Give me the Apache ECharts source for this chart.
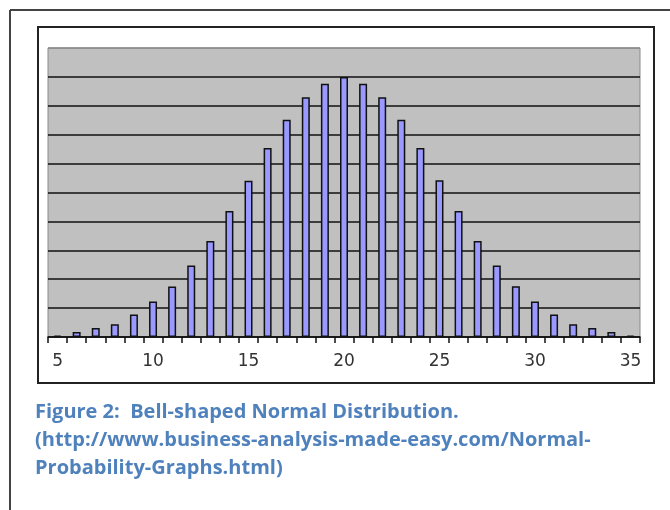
<!DOCTYPE html>
<html lang="en" style="height: 100%">
<head>
<meta charset="utf-8">
<title>Bell-shaped Normal Distribution</title>
</head>
<body style="height: 100%; margin: 0; background: #fff">
<div id="container" style="width: 670px; height: 510px"></div>

<script type="text/javascript" src="https://cdn.jsdelivr.net/npm/echarts/dist/echarts.min.js"></script>

<script type="text/javascript">

// category labels along the x axis (5 .. 35)
const categories = ['5', '6', '7', '8', '9', '10', '11', '12', '13', '14', '15', '16', '17', '18', '19', '20',
    '21', '22', '23', '24', '25', '26', '27', '28', '29', '30', '31', '32', '33', '34', '35'];

// bar heights (grid units, 0..10)
const frequency = [0.05, 0.17, 0.31, 0.44, 0.78, 1.23, 1.75, 2.47, 3.32, 4.36, 5.41, 6.54, 7.52, 8.30, 8.76, 9.0,
    8.76, 8.30, 7.52, 6.54, 5.42, 4.36, 3.32, 2.47, 1.76, 1.23, 0.78, 0.44, 0.31, 0.17, 0.05];

const captionLines = [
    'Figure 2:  Bell-shaped Normal Distribution.',
    '(http://www.business-analysis-made-easy.com/Normal-',
    'Probability-Graphs.html)'
];

var dom = document.getElementById('container');
var myChart = echarts.init(dom, null, {width: 670, height: 510});

// split lines: black inside, grey on the top edge
var splitColors = [];
for (var i = 0; i < 10; i++) splitColors.push('#111');
splitColors.push('#8a8a8a');

var option = {
    animation: false,
    backgroundColor: '#fff',
    title: {
        text: captionLines.join('\n'),
        left: 30,
        top: 393,
        textStyle: {
            fontFamily: 'Open Sans',
            fontWeight: 'bold',
            fontSize: 20,
            lineHeight: 28,
            color: '#4f81bd'
        }
    },
    graphic: [
        // page border (top and left)
        {type: 'line', shape: {x1: 10, y1: 10, x2: 670, y2: 10}, style: {stroke: '#444', lineWidth: 2}, z: -1},
        {type: 'line', shape: {x1: 10, y1: 10, x2: 10, y2: 510}, style: {stroke: '#444', lineWidth: 2}, z: -1},
        // chart frame
        {type: 'rect', shape: {x: 38, y: 27, width: 616, height: 356}, style: {fill: 'none', stroke: '#222', lineWidth: 2}, z: -1}
    ],
    grid: {
        left: 48,
        top: 48,
        width: 592,
        height: 289,
        show: true,
        backgroundColor: '#c0c0c0',
        borderColor: '#8a8a8a',
        borderWidth: 1
    },
    xAxis: {
        type: 'category',
        data: categories,
        boundaryGap: true,
        axisLine: {lineStyle: {color: '#111', width: 1.5}},
        axisTick: {show: true, interval: 0, length: 6, lineStyle: {color: '#111', width: 1.5}},
        axisLabel: {
            interval: 4,
            margin: 16,
            fontFamily: 'DejaVu Sans',
            fontSize: 17,
            color: '#333'
        },
        splitLine: {show: false}
    },
    yAxis: {
        type: 'value',
        min: 0,
        max: 10,
        interval: 1,
        axisLine: {show: false},
        axisTick: {show: false},
        axisLabel: {show: false},
        splitLine: {show: true, lineStyle: {color: splitColors, width: 1.5}}
    },
    series: [
        {
            type: 'bar',
            data: frequency,
            barWidth: 8,
            itemStyle: {
                color: '#9999ff',
                borderColor: '#111',
                borderWidth: 1.5
            }
        }
    ]
};

myChart.setOption(option);

window.addEventListener('resize', myChart.resize);
</script>
</body>
</html>
